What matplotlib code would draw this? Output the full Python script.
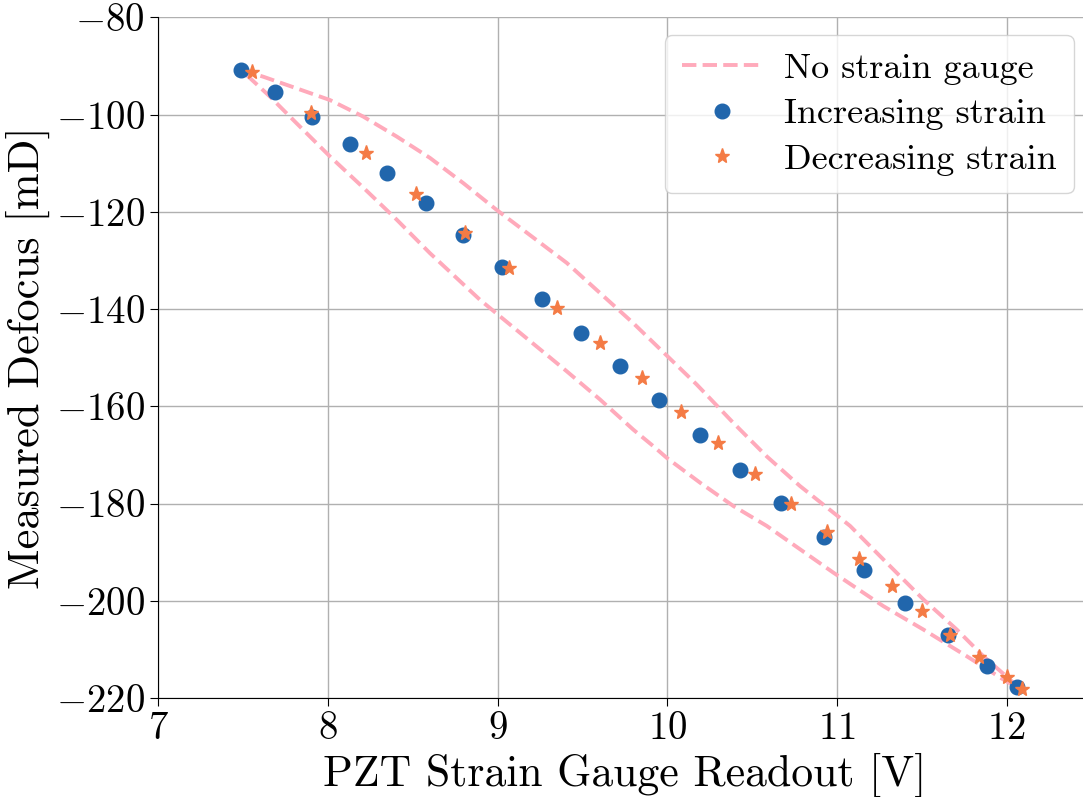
import matplotlib
matplotlib.use("Agg")
import matplotlib.pyplot as plt

plt.rcParams['font.family'] = ['cmr10', 'DejaVu Serif']
plt.rcParams['mathtext.fontset'] = 'cm'
plt.rcParams['axes.formatter.use_mathtext'] = True

# Increasing strain (blue circles)
inc_x = [7.487, 7.691, 7.909, 8.131, 8.351, 8.581, 8.799, 9.028, 9.260, 9.492, 9.722,
         9.951, 10.191, 10.430, 10.670, 10.922, 11.159, 11.400, 11.652, 11.882, 12.060]
inc_y = [-90.8, -95.3, -100.4, -106.0, -112.0, -118.2, -124.7, -131.3, -138.0, -145.0, -151.8,
         -158.8, -165.8, -173.1, -179.8, -186.9, -193.7, -200.5, -207.1, -213.5, -217.8]

# Decreasing strain (orange stars)
dec_x = [7.552, 7.901, 8.224, 8.518, 8.807, 9.070, 9.351, 9.602, 9.851, 10.081, 10.301,
         10.519, 10.731, 10.943, 11.128, 11.322, 11.501, 11.666, 11.838, 12.003, 12.088]
dec_y = [-91.2, -99.6, -107.9, -116.3, -124.4, -131.6, -139.7, -147.0, -154.1, -161.1, -167.5,
         -173.9, -180.0, -185.9, -191.5, -197.0, -202.2, -207.0, -211.6, -215.7, -218.1]

# No strain gauge loop (pink dashed): upper branch out, lower branch back
upper_x = [7.487, 7.620, 7.817, 8.013, 8.209, 8.406, 8.602, 8.799, 8.995, 9.408, 9.800,
           10.173, 10.389, 10.586, 10.782, 11.077, 11.273, 11.508, 11.705, 11.862, 12.019, 12.07]
upper_y = [-90.8, -92.2, -94.6, -97.0, -100.4, -104.5, -108.9, -114.1, -119.6, -130.5, -142.9,
           -155.5, -163.4, -170.3, -176.4, -184.6, -191.5, -199.7, -205.9, -211.4, -216.2, -218.0]
lower_x = [12.07, 11.980, 11.764, 11.508, 11.273, 10.978, 10.782, 10.586, 10.389, 10.193,
           9.997, 9.918, 9.800, 9.604, 9.408, 9.015, 8.897, 8.602, 8.406, 8.209, 8.013,
           7.817, 7.660, 7.502, 7.487]
lower_y = [-218.0, -216.2, -211.4, -205.9, -201.1, -194.2, -189.4, -184.6, -180.5, -175.7,
           -170.6, -168.2, -164.8, -158.6, -152.8, -141.5, -138.1, -128.5, -121.6, -115.0, -108.6,
           -101.8, -96.3, -91.2, -90.8]

x_ticks = [7, 8, 9, 10, 11, 12]
y_ticks = [-220, -200, -180, -160, -140, -120, -100, -80]

fig = plt.figure(figsize=(10.83, 7.97), dpi=100)
px_per_unit = 169.75
right_px = 158 + 5.5 * px_per_unit
ax = fig.add_axes([158/1083, 1 - 698/797, (right_px - 158)/1083, (698 - 17.4)/797])

ax.plot(upper_x + lower_x[1:], upper_y + lower_y[1:], linestyle='--', color='#ffaabb',
        lw=2.8, label='No strain gauge', zorder=2)
ax.plot(inc_x, inc_y, linestyle='none', marker='o', ms=10.5, color='#2166ac',
        label='Increasing strain', zorder=3)
ax.plot(dec_x, dec_y, linestyle='none', marker='*', ms=11, color='#f47b45',
        label='Decreasing strain', zorder=4)

ax.set_xlim(7, 12.5)
ax.set_ylim(-220, -80)
ax.set_xticks(x_ticks)
ax.set_yticks(y_ticks)
ax.grid(True, color='#b0b0b0', lw=1)
ax.set_axisbelow(True)
for s in ['top', 'right']:
    ax.spines[s].set_visible(False)
ax.tick_params(labelsize=28, length=6)

ax.set_xlabel('PZT Strain Gauge Readout [V]', fontsize=31.5)
ax.set_ylabel('Measured Defocus [mD]', fontsize=32)

ax.legend(loc='upper right', fontsize=26, frameon=True, framealpha=0.8,
          handlelength=2.2, handletextpad=0.6, borderpad=0.48, labelspacing=0.36)

fig.savefig('out.png', dpi=100)
